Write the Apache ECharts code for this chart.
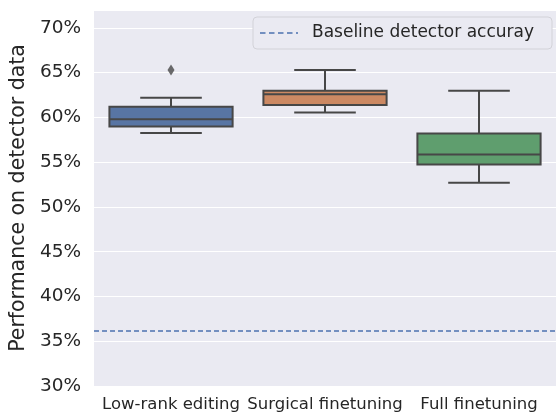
<!DOCTYPE html>
<html><head><meta charset="utf-8">
<script src="https://cdn.jsdelivr.net/npm/echarts@6/dist/echarts.min.js"></script>
<style>html,body{margin:0;padding:0;background:#fff}#c{width:556px;height:415px}</style>
</head><body><div id="c"></div>
<script>
var categories = ['Low-rank editing', 'Surgical finetuning', 'Full finetuning'];
// [lower whisker, Q1, median, Q3, upper whisker]
var lowRank = [58.25, 59.0, 59.8, 61.2, 62.2];
var surgical = [60.55, 61.4, 62.6, 62.97, 65.3];
var full = [52.7, 54.74, 55.85, 58.2, 62.97];
var outliers = [[0, 65.3]];
var baseline = 36.2;
var legendLabel = 'Baseline detector accuray';
var boxColors = ['#5875a4', '#cc8963', '#5f9e6e'];

var boxData = [lowRank, surgical, full].map(function (s, i) { return [i].concat(s); });

var chart = echarts.init(document.getElementById('c'));
var font = 'DejaVu Sans';
var edge = '#474747';

function renderBox(params, api) {
  var i = api.value(0);
  var band = api.size([1, 0])[0];
  var bw = band * 0.8;
  var cw = bw / 2;
  var pMin = api.coord([i, api.value(1)]);
  var pQ1 = api.coord([i, api.value(2)]);
  var pMed = api.coord([i, api.value(3)]);
  var pQ3 = api.coord([i, api.value(4)]);
  var pMax = api.coord([i, api.value(5)]);
  var x = pQ1[0];
  var ls = {stroke: edge, lineWidth: 2};
  return {
    type: 'group',
    children: [
      {type: 'line', shape: {x1: x, y1: pQ1[1], x2: x, y2: pMin[1]}, style: ls},
      {type: 'line', shape: {x1: x, y1: pQ3[1], x2: x, y2: pMax[1]}, style: ls},
      {type: 'line', shape: {x1: x - cw / 2, y1: pMin[1], x2: x + cw / 2, y2: pMin[1]}, style: ls},
      {type: 'line', shape: {x1: x - cw / 2, y1: pMax[1], x2: x + cw / 2, y2: pMax[1]}, style: ls},
      {type: 'rect', shape: {x: x - bw / 2, y: pQ3[1], width: bw, height: pQ1[1] - pQ3[1]},
        style: {fill: boxColors[params.dataIndex], stroke: edge, lineWidth: 2}},
      {type: 'line', shape: {x1: x - bw / 2, y1: pMed[1], x2: x + bw / 2, y2: pMed[1]}, style: ls}
    ]
  };
}

chart.setOption({
  animation: false,
  backgroundColor: '#fff',
  textStyle: {fontFamily: font},
  grid: {left: 90, right: -7, top: 10, bottom: 29, backgroundColor: '#eaeaf2', show: true, borderWidth: 0},
  xAxis: {
    type: 'category', data: categories,
    axisLine: {show: false}, axisTick: {show: false}, splitLine: {show: false},
    axisLabel: {interval: 0, fontSize: 16.5, color: '#262626', margin: 10, fontFamily: font}
  },
  yAxis: {
    type: 'value', min: 30, max: 72, interval: 5,
    name: 'Performance on detector data', nameLocation: 'middle', nameGap: 64,
    nameTextStyle: {fontSize: 20.5, color: '#262626', fontFamily: font},
    axisLine: {show: false}, axisTick: {show: false},
    axisLabel: {formatter: '{value}%', fontSize: 18.5, color: '#262626', margin: 13, showMaxLabel: false, fontFamily: font},
    splitLine: {lineStyle: {color: '#ffffff', width: 1.2}}
  },
  graphic: [
    {type: 'rect', z: 100, zlevel: 1, shape: {x: 253, y: 17, width: 299, height: 32, r: 4},
      style: {fill: '#eaeaf2', stroke: '#d2d2d8', lineWidth: 1}},
    {type: 'line', z: 101, zlevel: 1, shape: {x1: 260, y1: 33, x2: 298, y2: 33},
      style: {stroke: '#4c72b0', lineWidth: 1.7, lineDash: [5.5, 3.5]}},
    {type: 'text', z: 101, zlevel: 1, x: 312, y: 33,
      style: {text: legendLabel, fill: '#262626', font: '17px "DejaVu Sans"', verticalAlign: 'middle'}}
  ],
  series: [
    {
      type: 'custom', renderItem: renderBox, data: boxData,
      encode: {x: 0, y: [1, 2, 3, 4, 5]}, z: 3
    },
    {
      type: 'scatter', symbol: 'diamond', symbolSize: [7, 11],
      itemStyle: {color: edge}, data: outliers, z: 4
    },
    {
      name: legendLabel, type: 'line', data: [],
      markLine: {
        silent: true, symbol: 'none', label: {show: false},
        lineStyle: {color: '#4c72b0', type: [5, 3], width: 1.7},
        data: [{yAxis: baseline}]
      }
    }
  ]
});
</script></body></html>
